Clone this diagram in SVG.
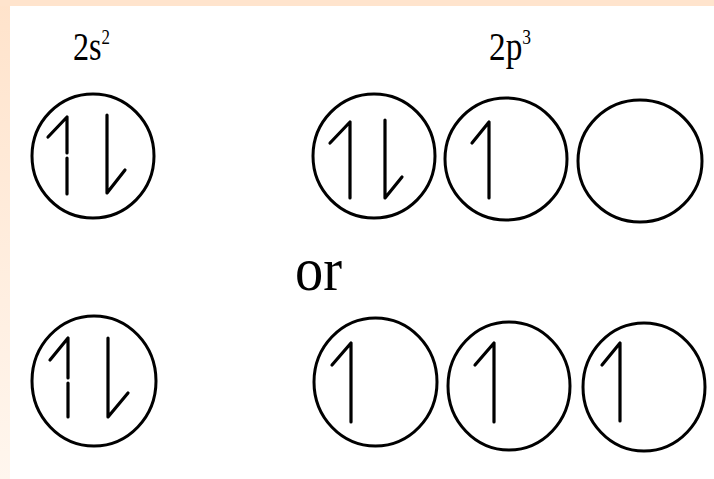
<svg xmlns="http://www.w3.org/2000/svg" width="714" height="479" viewBox="0 0 714 479">
<defs>
<linearGradient id="lg" x1="0" y1="0" x2="0" y2="1">
<stop offset="0" stop-color="#FFE3CB"/>
<stop offset="1" stop-color="#FFF6EE"/>
</linearGradient>
<style>
.orb{fill:none;stroke:#000;stroke-width:3}
.ar{fill:none;stroke:#000;stroke-width:3.2;stroke-linecap:round;stroke-linejoin:round}
.lbl{font-family:"Liberation Serif","Times New Roman",serif;fill:#000}
</style>
</defs>
<rect x="0" y="0" width="714" height="479" fill="url(#lg)"/>
<rect x="0" y="0" width="714" height="6" fill="#FFE4CD"/>
<rect x="10" y="6" width="704" height="473" fill="#FFFFFF"/>

<g id="label-2s">
<text class="lbl" x="73" y="60" font-size="40" textLength="37" lengthAdjust="spacingAndGlyphs">2s<tspan dy="-16" font-size="21">2</tspan></text>
</g>
<g id="label-2p">
<text class="lbl" x="489" y="60" font-size="40" textLength="42" lengthAdjust="spacingAndGlyphs">2p<tspan dy="-16" font-size="21">3</tspan></text>
</g>
<g id="label-or">
<text class="lbl" x="295" y="290" font-size="61" textLength="47" lengthAdjust="spacingAndGlyphs">or</text>
</g>

<g id="row1-2s">
<ellipse class="orb" cx="93" cy="156" rx="61" ry="62"/>
<path class="ar" d="M67 117 V153 M67 158 V194 M67 117 L48 137 M107 115 V193 L125 170"/>
</g>
<g id="row1-2p-a">
<ellipse class="orb" cx="374" cy="156" rx="61" ry="62"/>
<path class="ar" d="M350 122 V198 M350 122 L330 143 M385 120 V198 L402 177"/>
</g>
<g id="row1-2p-b">
<ellipse class="orb" cx="506" cy="159" rx="61" ry="61"/>
<path class="ar" d="M489 122 V198 M489 122 L472 143"/>
</g>
<g id="row1-2p-c">
<ellipse class="orb" cx="640" cy="161" rx="62" ry="61"/>
</g>

<g id="row2-2s">
<ellipse class="orb" cx="94" cy="381" rx="62" ry="65"/>
<path class="ar" d="M68 338 V378 M68 383 V417 M68 338 L50 360 M108 338 V417 L128 393"/>
</g>
<g id="row2-2p-a">
<ellipse class="orb" cx="375.5" cy="382" rx="61.5" ry="64"/>
<path class="ar" d="M351 343 V422 M351 343 L332 365"/>
</g>
<g id="row2-2p-b">
<ellipse class="orb" cx="509" cy="386" rx="61" ry="64"/>
<path class="ar" d="M494 343 V422 M494 343 L475 365"/>
</g>
<g id="row2-2p-c">
<ellipse class="orb" cx="644" cy="387" rx="61" ry="64"/>
<path class="ar" d="M620 343 V421 M620 343 L602 365"/>
</g>
<g id="connectors"/>
</svg>
